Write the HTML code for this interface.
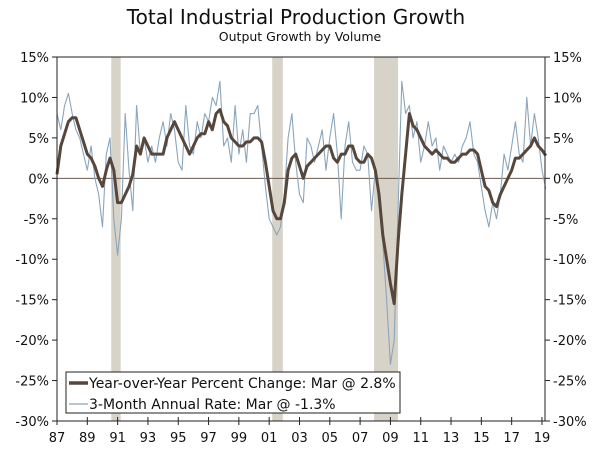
<!DOCTYPE html>
<html><head><meta charset="utf-8"><style>
body{margin:0;background:#fff;}
svg{display:block;font-family:"DejaVu Sans","Liberation Sans",sans-serif;}
</style></head><body>
<svg id="chart" width="600" height="450" viewBox="0 0 600 450">
<text x="296" y="24" text-anchor="middle" font-size="20" fill="#111">Total Industrial Production Growth</text>
<text x="300" y="41" text-anchor="middle" font-size="12.5" fill="#111">Output Growth by Volume</text>
<g id="rec"></g><g id="grid"></g><g id="series"></g><g id="axes"></g>
<g>
<rect x="66" y="372" width="334" height="41" fill="#fff" stroke="#222" stroke-width="1"/>
<line x1="69" y1="383" x2="88" y2="383" stroke="#56463c" stroke-width="3.5"/>
<text x="89" y="388" font-size="14" fill="#111">Year-over-Year Percent Change: Mar @ 2.8%</text>
<line x1="69" y1="404" x2="88" y2="404" stroke="#8aa5bc" stroke-width="1.2"/>
<text x="89" y="409" font-size="14" fill="#111">3-Month Annual Rate: Mar @ -1.3%</text>
</g>
</svg>
<script>
const yTicks=[15,10,5,0,-5,-10,-15,-20,-25,-30];
const xTickYears=[1987,1989,1991,1993,1995,1997,1999,2001,2003,2005,2007,2009,2011,2013,2015,2017,2019];
const recStart=[1990.58,2001.2,2007.92];
const recEnd=[1991.2,2001.9,2009.5];
const startYear=1987;
const yoy=[0.5,4,5.5,7, 7.5,7.5,6,4.5, 3,2.5,1.5,0, -1,1,2.5,1, -3,-3,-2,-1, 0.5,4,3,5, 4,3,3,3, 3,5,6,7, 6,5,4,3, 4,5,5.5,5.5, 7,6,8,8.5, 7,6.5,5,4.5, 4,4,4.5,4.5, 5,5,4.5,2, -1,-4,-5,-5, -3,1,2.5,3, 1.5,0,1.5,2, 2.5,3,3.5,4, 4,2.5,2,3, 3,4,4,2.5, 2,2,3,2.5, 1,-2,-7,-10, -13,-15.5,-8,-2, 3,8,6.5,6, 5,4,3.5,3, 3.5,3,2.5,2.5, 2,2,2.5,3, 3,3.5,3.5,3, 1,-1,-1.5,-3, -3.5,-2,-1,0, 1,2.5,2.5,3, 3.5,4,5,4, 3.5,2.8];
const threeMonth=[8,6,9,10.5, 8,6,5,3, 1,4,0,-2, -6,3,5,-5, -9.5,-5,8,1, -4,9,3,5, 2,4,2,5, 7,4,8,6, 2,1,9,4, 3,7,5,8, 7,10,9,12, 4,5,2,9, 3,6,2,8, 8,9,4,-1, -5,-6,-7,-6, -2,5,8,2, -2,-3,5,4, 2,4,6,1, 5,8,3,-5, 4,7,2,1, 1,4,3,-4, 1,-3,-8,-15, -23,-20,-4,12, 8,9,5,7, 2,4,7,4, 5,1,4,3, 2,3,2,4, 5,7,3,2, -1,-4,-6,-3, -5,-2,3,1, 4,7,3,2, 10,4,8,5, 1,-1.3];
const L=57,R=545,T=57,B=421;
const X=y=>L+(y-1987)*(R-L)/32.2;
const Y=v=>T+(15-v)*(B-T)/45;
const NS="http://www.w3.org/2000/svg";
function mk(tag,attrs,parent){const e=document.createElementNS(NS,tag);for(const k in attrs)e.setAttribute(k,attrs[k]);parent.appendChild(e);return e;}
const rec=document.getElementById('rec'),grid=document.getElementById('grid'),ser=document.getElementById('series'),ax=document.getElementById('axes');
recStart.forEach((s,i)=>{const r=mk('rect',{x:X(s),y:T,width:X(recEnd[i])-X(s),height:B-T,fill:'#d8d3c8'},rec);

});
const z=mk('line',{x1:L,x2:R,y1:Y(0),y2:Y(0),stroke:'#6b5a4e','stroke-width':1},grid);


function path(arr,color,w,name){const d=arr.map((v,i)=>(i?'L':'M')+X(startYear+i/4).toFixed(1)+' '+Y(v).toFixed(1)).join(' ');
const p=mk('path',{d:d,fill:'none',stroke:color,'stroke-width':w,'stroke-linejoin':'round'},ser);

}
path(threeMonth,'#8aa5bc',1.1,'three-month-rate-line');
path(yoy,'#56463c',3,'yoy-change-line');
mk('rect',{x:L,y:T,width:R-L,height:B-T,fill:'none',stroke:'#222','stroke-width':1},ax);
yTicks.forEach(v=>{const y=Y(v);
mk('line',{x1:L-5,x2:L,y1:y,y2:y,stroke:'#222'},ax);
mk('line',{x1:R,x2:R+5,y1:y,y2:y,stroke:'#222'},ax);
const t1=mk('text',{x:L-8,y:y+5,'text-anchor':'end','font-size':13,fill:'#111'},ax);t1.textContent=v+'%';


const t2=mk('text',{x:R+8,y:y+5,'font-size':13,fill:'#111'},ax);t2.textContent=v+'%';

});
xTickYears.forEach(yr=>{const x=X(yr);
mk('line',{x1:x,x2:x,y1:B-4,y2:B+4,stroke:'#222'},ax);
const t=mk('text',{x:x,y:442,'text-anchor':'middle','font-size':13,fill:'#111'},ax);t.textContent=String(yr).slice(2);

});
</script>
</body></html>
